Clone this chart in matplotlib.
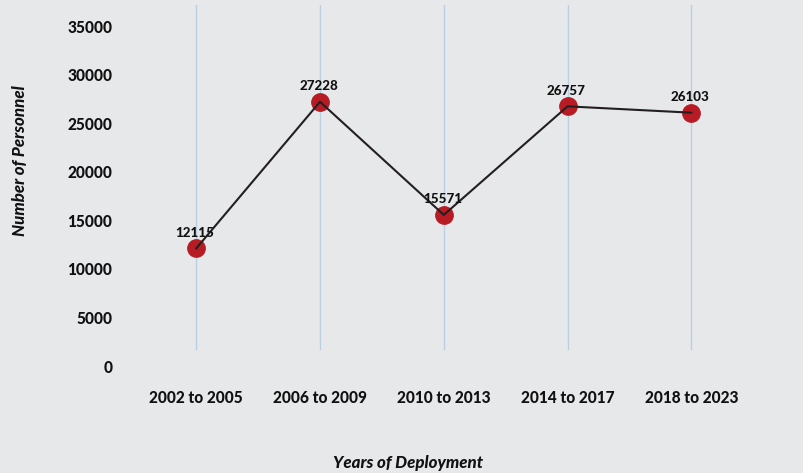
import matplotlib
matplotlib.use("Agg")
import matplotlib.pyplot as plt

categories = ["2002 to 2005", "2006 to 2009", "2010 to 2013", "2014 to 2017", "2018 to 2023"]
personnel = [12115, 27228, 15571, 26757, 26103]
yticks = [0, 5000, 10000, 15000, 20000, 25000, 30000, 35000]

BG = "#e7e8ea"
plt.rcParams["font.family"] = ["Lato", "DejaVu Sans"]
WEIGHT = "black"

W, H = 804, 473
fig = plt.figure(figsize=(W / 100, H / 100), dpi=100, facecolor=BG)
left_px, right_px, top_px, bot_px = 143, 804, 5, 366
ax = fig.add_axes([left_px / W, 1 - bot_px / H, (right_px - left_px) / W, (bot_px - top_px) / H])
ax.set_facecolor(BG)

x = list(range(len(categories)))
ax.set_xlim(-0.43, 4.91)
ax.set_ylim(0, 37200)

for xi in x:
    ax.axvline(xi, ymin=0.047, ymax=1, color="#b9cfe2", lw=1.0, zorder=1)

ax.plot(x, personnel, linestyle="none", marker="o", markersize=12.5,
        markerfacecolor="#b71c24", markeredgecolor="#b71c24", zorder=2)
ax.plot(x, personnel, color="#231f20", lw=1.5, zorder=3)

for xi, v in zip(x, personnel):
    ax.annotate(str(v), (xi, v), xytext=(-1, 7), textcoords="offset points",
                ha="center", va="bottom", fontsize=9.6, fontweight=WEIGHT, color="#111111", zorder=4)

ax.set_xticks(x)
ax.set_xticklabels(categories, fontsize=11.2, fontweight=WEIGHT, color="#111111")
ax.set_yticks(yticks)
ax.set_yticklabels([str(t) for t in yticks], fontsize=11.2, fontweight=WEIGHT, color="#111111")
ax.tick_params(axis="both", length=0)
ax.tick_params(axis="x", pad=17)
ax.tick_params(axis="y", pad=22)
for s in ax.spines.values():
    s.set_visible(False)

fig.text(408 / W, 1 - 463 / H, "Years of Deployment", ha="center", va="center",
         fontsize=12.2, fontweight=WEIGHT, fontstyle="italic", color="#111111")
fig.text(20 / W, 1 - 161 / H, "Number of Personnel", ha="center", va="center", rotation=90,
         fontsize=12.2, fontweight=WEIGHT, fontstyle="italic", color="#111111")

fig.savefig("out.png", dpi=100, facecolor=BG)
